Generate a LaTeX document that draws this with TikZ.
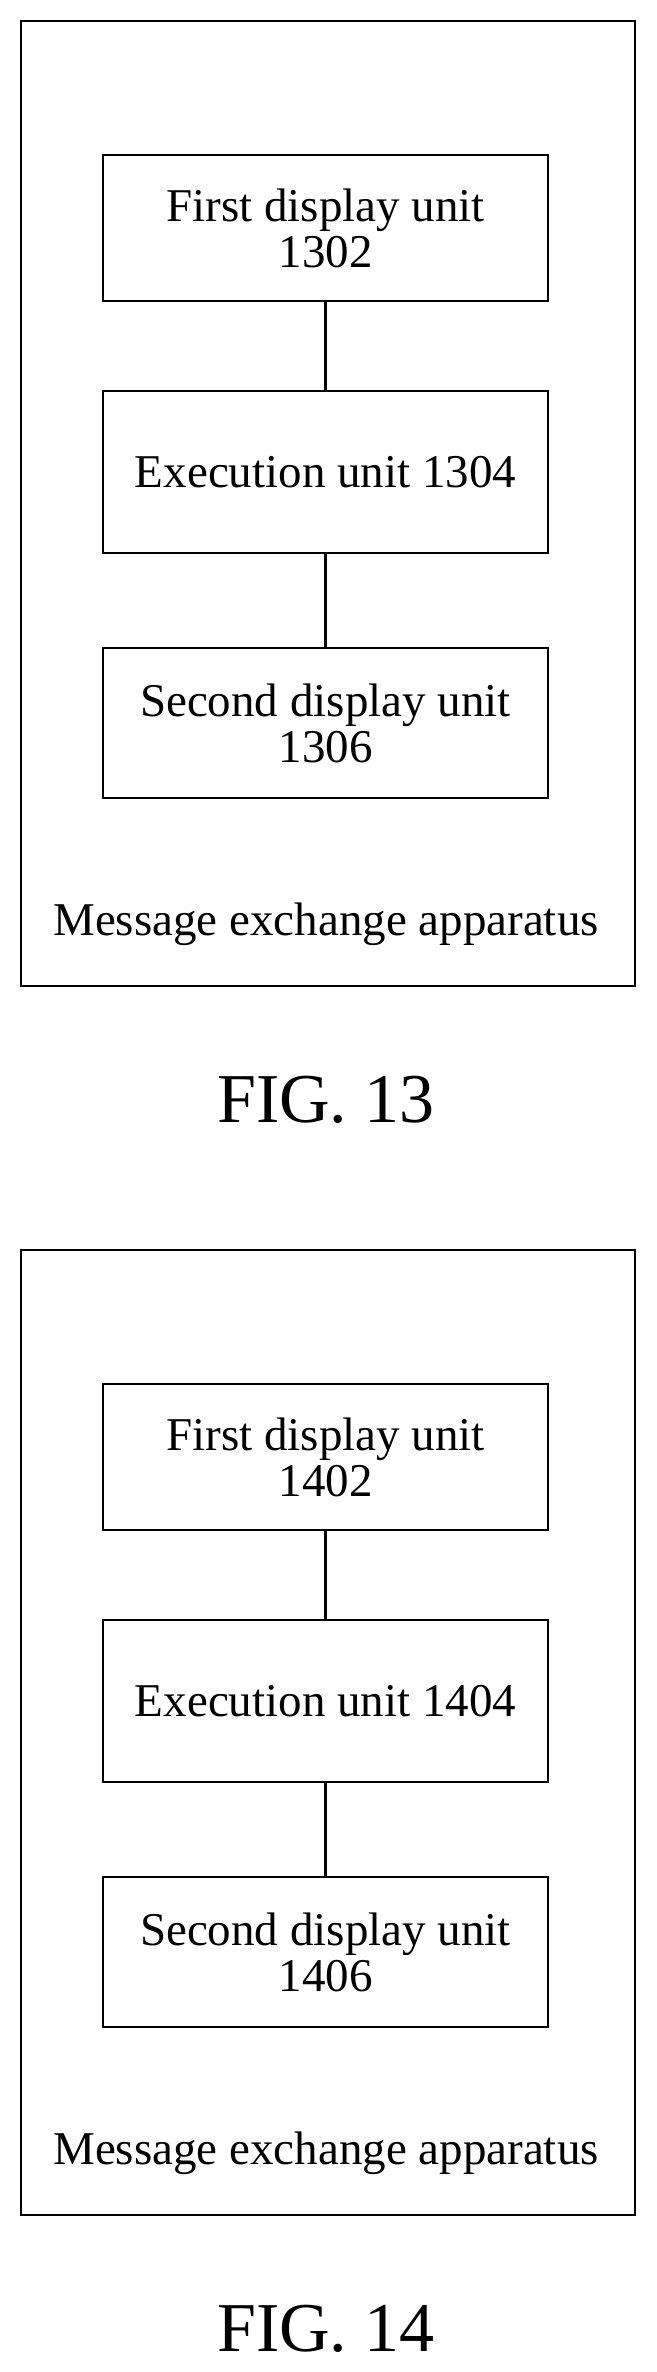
\documentclass[tikz,border=0pt]{standalone}
\usepackage{fontspec}
\setmainfont{Liberation Serif}
\begin{document}
\begin{tikzpicture}[x=1pt,y=-1pt,line width=2.6pt,
  unitbox/.style={draw,minimum width=445pt,align=center,font=\fontsize{47}{46}\selectfont,inner sep=0pt},
  lbl/.style={font=\fontsize{47}{46}\selectfont},
  fig/.style={font=\fontsize{70}{70}\selectfont}]
\useasboundingbox (0,0) rectangle (656,2372);
\foreach \o/\n in {0/13,1229/14}{
  \begin{scope}[yshift=-\o pt]
  \draw (21,21) rectangle (635,986);
  \node[unitbox,minimum height=146pt] (a\n) at (325.5,228) {First display unit\\\n02};
  \node[unitbox,minimum height=162pt] (b\n) at (325.5,472) {Execution unit \n04};
  \node[unitbox,minimum height=150pt] (c\n) at (325.5,723) {Second display unit\\\n06};
  \draw (a\n) -- (b\n);
  \draw (b\n) -- (c\n);
  \node[lbl] (l\n) at (326,924) {Message exchange apparatus};
  \node[fig] (f\n) at (326,1100) {FIG. \n};
  \end{scope}}
\end{tikzpicture}
\end{document}
